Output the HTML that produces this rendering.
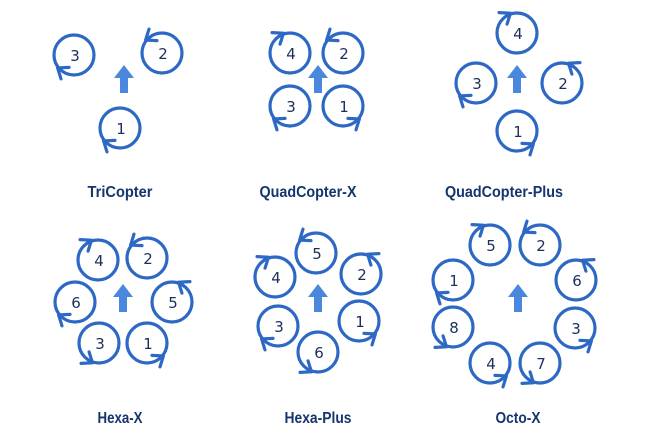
<!DOCTYPE html>
<html><head><meta charset="utf-8">
<style>
html,body{margin:0;padding:0;background:#fff;}
svg{display:block;}
.lbl{font-family:"Liberation Sans Narrow","Liberation Sans",sans-serif;font-weight:bold;font-size:16px;fill:#14356e;text-anchor:middle;}
.num{font-family:"DejaVu Sans","Liberation Sans",sans-serif;font-size:15px;fill:#1b2f5a;text-anchor:middle;dominant-baseline:central;}
</style></head>
<body>
<svg id="s" width="670" height="448" viewBox="0 0 670 448" xmlns="http://www.w3.org/2000/svg">
<text class="lbl" x="120" y="197" textLength="65" lengthAdjust="spacingAndGlyphs">TriCopter</text>
<text class="lbl" x="308" y="197" textLength="97" lengthAdjust="spacingAndGlyphs">QuadCopter-X</text>
<text class="lbl" x="504" y="197" textLength="118" lengthAdjust="spacingAndGlyphs">QuadCopter-Plus</text>
<text class="lbl" x="120" y="423" textLength="45" lengthAdjust="spacingAndGlyphs">Hexa-X</text>
<text class="lbl" x="318" y="423" textLength="67" lengthAdjust="spacingAndGlyphs">Hexa-Plus</text>
<text class="lbl" x="518" y="423" textLength="45" lengthAdjust="spacingAndGlyphs">Octo-X</text>
</svg>
<script>
var s=document.getElementById('s'),NS='http://www.w3.org/2000/svg';
function el(t,a,txt){var e=document.createElementNS(NS,t);for(var k in a)e.setAttribute(k,a[k]);if(txt)e.textContent=txt;s.appendChild(e);return e;}
var C='#2d69c4';
function rotor(n,x,y,a,d){
 var r=20;
 el('circle',{cx:x,cy:y,r:r,fill:'none',stroke:C,'stroke-width':3.2});
 var t=a*Math.PI/180,px=x+r*Math.cos(t),py=y+r*Math.sin(t);
 var dx=-Math.sin(t)*d,dy=Math.cos(t)*d;
 var nx=Math.cos(t),ny=Math.sin(t);
 var tx=px+dx*6,ty=py+dy*6;
 var p=[[tx-dx*9+nx*7,ty-dy*9+ny*7],[tx,ty],[tx-dx*9-nx*7,ty-dy*9-ny*7]];
 el('polyline',{points:p.map(function(q){return q.join(',')}).join(' '),fill:'none',stroke:C,'stroke-width':3.2,'stroke-linecap':'round','stroke-linejoin':'round'});
 el('text',{'class':'num',x:x+1,y:y+1},String(n));
}
function arrow(x,y){
 el('polygon',{points:[x,y-13,x+10,y,x+4,y,x+4,y+15,x-4,y+15,x-4,y,x-10,y].join(','),fill:'#4a88de'});
}
rotor(3,74,55,125,1);rotor(2,162,53,-125,-1);rotor(1,120,128,125,1);arrow(124,78);
rotor(4,290,53,-125,1);rotor(2,343,53,-125,-1);rotor(3,290,106,125,1);rotor(1,343,106,55,-1);arrow(318,78);
rotor(4,517,33,-125,1);rotor(3,476,83,125,1);rotor(2,562,83,-55,-1);rotor(1,517,131,55,-1);arrow(517,78);
rotor(4,98,260,-125,1);rotor(2,147,258,-125,-1);rotor(6,75,302,125,1);rotor(5,172,302,-55,-1);rotor(3,99,343,125,-1);rotor(1,147,343,55,-1);arrow(123,297);
rotor(5,316,253,-125,-1);rotor(4,275,277,-125,1);rotor(2,361,274,-55,-1);rotor(3,278,326,125,1);rotor(1,359,321,55,-1);rotor(6,318,352,125,-1);arrow(318,297);
rotor(5,490,245,-125,1);rotor(2,540,245,-125,-1);rotor(1,453,280,125,1);rotor(6,576,280,-55,-1);rotor(8,453,327,125,-1);rotor(3,575,328,55,-1);rotor(4,490,363,55,-1);rotor(7,540,363,125,-1);arrow(518,297);
</script>
</body></html>
